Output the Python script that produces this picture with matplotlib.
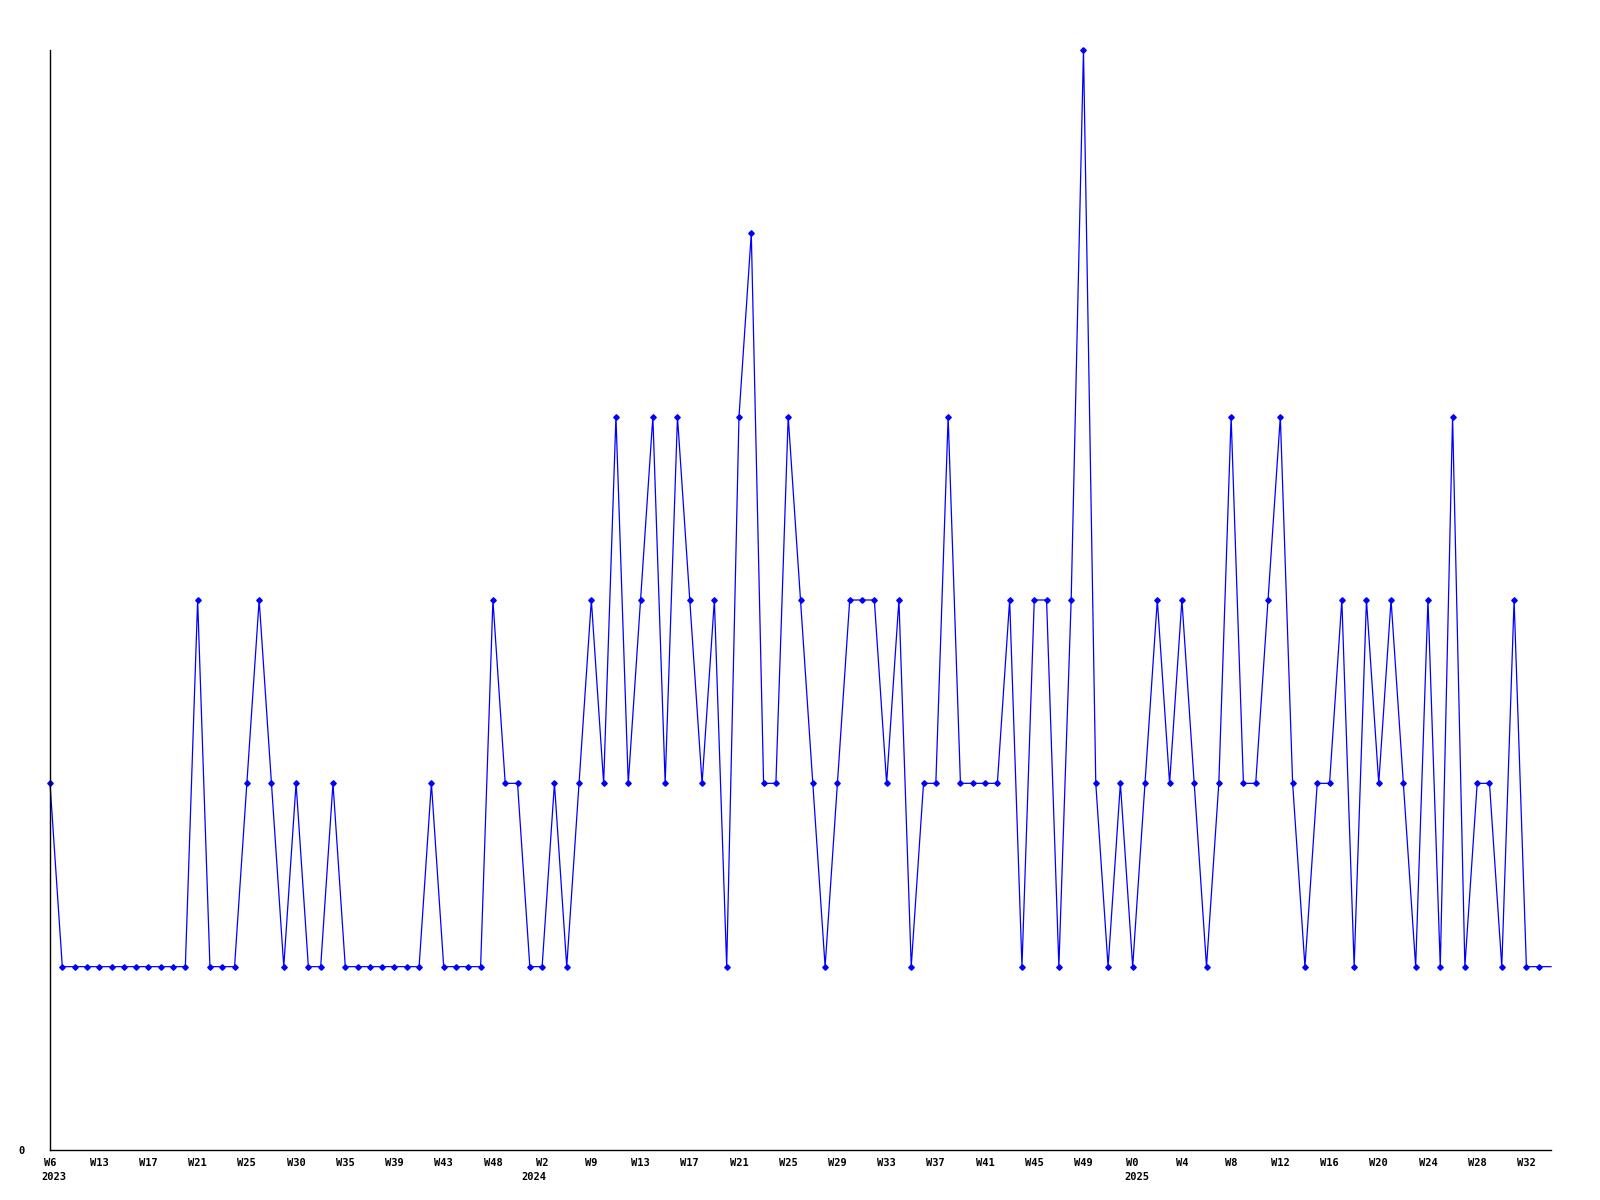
import matplotlib
matplotlib.use("Agg")
import matplotlib.pyplot as plt

# weekly counts, one per point
counts = [2, 1, 1, 1, 1, 1, 1, 1, 1, 1, 1, 1,
          3, 1, 1, 1, 2, 3, 2, 1, 2, 1, 1, 2,
          1, 1, 1, 1, 1, 1, 1, 2, 1, 1, 1, 1,
          3, 2, 2, 1, 1, 2, 1, 2, 3, 2, 4, 2,
          3, 4, 2, 4, 3, 2, 3, 1, 4, 5, 2, 2,
          4, 3, 2, 1, 2, 3, 3, 3, 2, 3, 1, 2,
          2, 4, 2, 2, 2, 2, 3, 1, 3, 3, 1, 3,
          6, 2, 1, 2, 1, 2, 3, 2, 3, 2, 1, 2,
          4, 2, 2, 3, 4, 2, 1, 2, 2, 3, 1, 3,
          2, 3, 2, 1, 3, 1, 4, 1, 2, 2, 1, 3,
          1, 1, 1]

week_labels = ["W6", "W13", "W17", "W21", "W25", "W30", "W35", "W39", "W43", "W48",
               "W2", "W9", "W13", "W17", "W21", "W25", "W29", "W33", "W37", "W41",
               "W45", "W49", "W0", "W4", "W8", "W12", "W16", "W20", "W24", "W28", "W32"]
label_step = 4

years = ["2023", "2024", "2025"]
year_pos = [0, 40, 88]
year_shift = [3.5, -8, 4.5]  # pixels

font = {"family": "DejaVu Sans Mono", "weight": "bold", "size": 7.5}

fig = plt.figure(figsize=(16, 12), dpi=100)
ax = fig.add_axes([50 / 1600, 50 / 1200, 1501 / 1600, 1100 / 1200])

x = list(range(len(counts)))
ax.plot(x, counts, color="#0000ff", lw=0.9, marker="D", ms=2.8,
        markevery=list(range(len(counts) - 1)), clip_on=False)

ax.set_xlim(0, len(counts) - 1)
ax.set_ylim(0, 6)

for s in ["top", "right"]:
    ax.spines[s].set_visible(False)
for s in ["left", "bottom"]:
    ax.spines[s].set_linewidth(1.0)
    ax.spines[s].set_color("black")

ticks = list(range(0, len(week_labels) * label_step, label_step))
ax.set_xticks(ticks)
ax.set_xticklabels(week_labels, **font)
ax.set_yticks([0])
ax.set_yticklabels(["0"], **font)
ax.tick_params(axis="x", length=0, pad=6)
ax.tick_params(axis="y", length=0, pad=18)

for yr, p, sh in zip(years, year_pos, year_shift):
    ax.annotate(yr, xy=(p, 0), xycoords=("data", "axes fraction"),
                xytext=(sh * 0.72, -27 * 0.72), textcoords="offset points",
                ha="center", va="center", **font)

fig.savefig("out.png", dpi=100, facecolor="white")
